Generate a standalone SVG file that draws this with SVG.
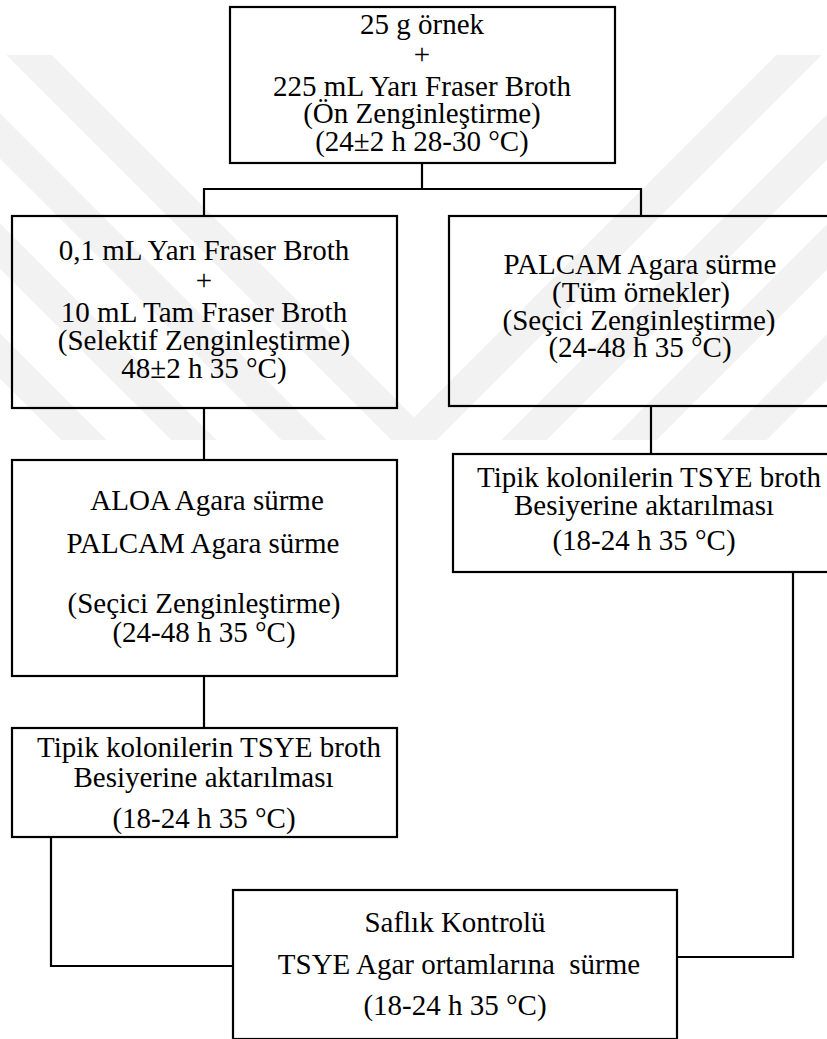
<svg xmlns="http://www.w3.org/2000/svg" width="827" height="1039" viewBox="0 0 827 1039">
  <style>
    .box { fill: #ffffff; stroke: #000000; stroke-width: 2.2; }
    .conn { fill: none; stroke: #000000; stroke-width: 2.2; }
    text { font-family: "Liberation Serif", "Times New Roman", serif; font-size: 29px; fill: #000000; text-anchor: middle; }
    .wm { fill: none; stroke: #000000; stroke-opacity: 0.05; stroke-width: 32; }
  </style>
  <defs>
    <clipPath id="wmclip">
      <rect x="0" y="55" width="827" height="385"/>
    </clipPath>
  </defs>
  <rect x="0" y="0" width="827" height="1039" fill="#ffffff"/>

  <g id="connectors">
    <path class="conn" d="M422 163 V189 M204 216 V189 H641 V216"/>
    <path class="conn" d="M204 408 V460"/>
    <path class="conn" d="M204 676 V728"/>
    <path class="conn" d="M651 406 V454"/>
    <path class="conn" d="M51 837 V966 H233"/>
    <path class="conn" d="M793 572 V957 H677"/>
  </g>

  <g id="node-start">
    <rect class="box" x="230" y="7" width="385" height="156"/>
    <text x="422" y="34">25 g örnek</text>
    <text x="422" y="64">+</text>
    <text x="422" y="95.5">225 mL Yarı Fraser Broth</text>
    <text x="422" y="123">(Ön Zenginleştirme)</text>
    <text x="422" y="151">(24±2 h 28-30 °C)</text>
  </g>

  <g id="node-selective">
    <rect class="box" x="12" y="216" width="385" height="192"/>
    <text x="204" y="260">0,1 mL Yarı Fraser Broth</text>
    <text x="204" y="290">+</text>
    <text x="204" y="321.5">10 mL Tam Fraser Broth</text>
    <text x="204" y="350">(Selektif Zenginleştirme)</text>
    <text x="204" y="378">48±2 h 35 °C)</text>
  </g>

  <g id="node-palcam-all">
    <rect class="box" x="449" y="216" width="384" height="190"/>
    <text x="640" y="274">PALCAM Agara sürme</text>
    <text x="641" y="301.5">(Tüm örnekler)</text>
    <text x="639" y="330">(Seçici Zenginleştirme)</text>
    <text x="640" y="356.5">(24-48 h 35 °C)</text>
  </g>

  <g id="node-aloa">
    <rect class="box" x="12" y="460" width="385" height="216"/>
    <text x="207" y="510">ALOA Agara sürme</text>
    <text x="203" y="553">PALCAM Agara sürme</text>
    <text x="204" y="613">(Seçici Zenginleştirme)</text>
    <text x="204" y="641.5">(24-48 h 35 °C)</text>
  </g>

  <g id="node-tsye-left">
    <rect class="box" x="12" y="728" width="385" height="109"/>
    <text x="209" y="756.5">Tipik kolonilerin TSYE broth</text>
    <text x="203.5" y="786.5">Besiyerine aktarılması</text>
    <text x="204" y="827.5">(18-24 h 35 °C)</text>
  </g>

  <g id="node-tsye-right">
    <rect class="box" x="453" y="454" width="384" height="118"/>
    <text x="649" y="486.5">Tipik kolonilerin TSYE broth</text>
    <text x="644" y="515">Besiyerine aktarılması</text>
    <text x="644" y="549.5">(18-24 h 35 °C)</text>
  </g>

  <g id="node-purity">
    <rect class="box" x="233" y="890" width="444" height="149"/>
    <text x="455" y="931.5">Saflık Kontrolü</text>
    <text x="459" y="973.5">TSYE Agar ortamlarına&#160; sürme</text>
    <text x="455" y="1015">(18-24 h 35 °C)</text>
  </g>

  <g id="watermark" clip-path="url(#wmclip)">
    <polyline class="wm" points="14,40 414,440 814,40"/>
    <polyline class="wm" points="-96,40 304,440 414,550 524,440 924,40"/>
    <polyline class="wm" points="-206,40 194,440 414,660 634,440 1034,40"/>
    <polyline class="wm" points="-316,40 84,440 414,770 744,440 1144,40"/>
  </g>
</svg>
